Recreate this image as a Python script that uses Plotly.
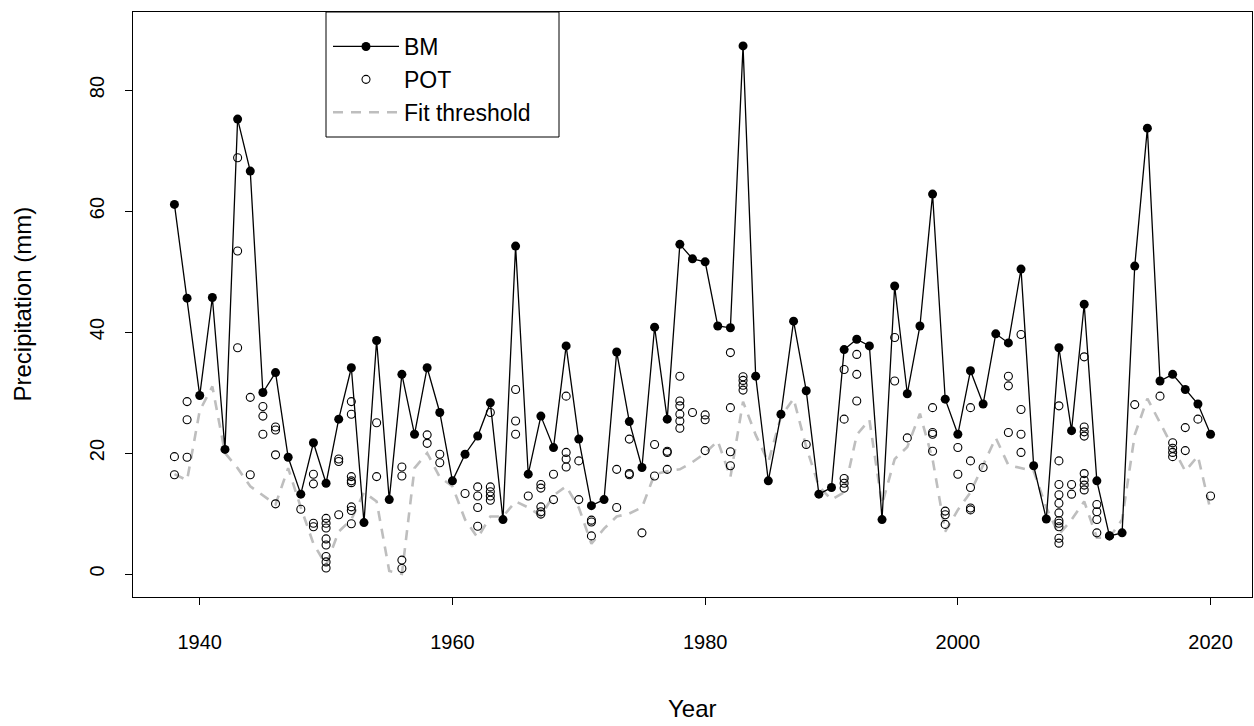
import plotly.graph_objects as go

years = list(range(1938, 2021))

bm_values = [
    61.1, 45.6, 29.5, 45.7, 20.6, 75.2, 66.6, 30.0, 33.3, 19.3,
    13.2, 21.7, 15.0, 25.6, 34.1, 8.5, 38.6, 12.3, 33.0, 23.1,
    34.1, 26.7, 15.4, 19.8, 22.8, 28.3, 9.0, 54.2, 16.5, 26.1,
    20.9, 37.7, 22.3, 11.3, 12.3, 36.7, 25.2, 17.6, 40.8, 25.6,
    54.5, 52.1, 51.6, 41.0, 40.7, 87.3, 32.7, 15.4, 26.4, 41.8,
    30.3, 13.2, 14.3, 37.1, 38.8, 37.7, 9.0, 47.6, 29.8, 41.0,
    62.8, 28.9, 23.1, 33.6, 28.1, 39.7, 38.2, 50.4, 17.9, 9.1,
    37.4, 23.7, 44.6, 15.4, 6.3, 6.8, 50.9, 73.7, 31.9, 33.0,
    30.5, 28.1, 23.1,
]

threshold_values = [
    16.5, 15.5, 27.0, 31.0, 20.0, 17.5, 14.5, 13.0, 11.5, 17.5,
    11.0, 5.0, 1.5, 7.0, 9.0, 13.5, 12.0, 0.5, 0.0, 17.5,
    20.0, 16.0, 14.5, 9.0, 6.0, 9.5, 9.5, 12.0, 11.0, 9.6,
    13.0, 14.5, 11.0, 5.0, 7.5, 9.5, 10.0, 11.0, 16.5, 17.0,
    17.3, 18.5, 20.0, 22.0, 16.0, 28.5, 23.0, 18.5, 26.0, 29.0,
    21.0, 14.5, 12.3, 13.5, 23.0, 25.5, 11.5, 19.0, 21.0, 26.5,
    19.0, 7.0, 10.6, 13.5, 18.0, 22.5, 18.0, 17.5, 17.0, 11.0,
    6.5, 9.0, 12.0, 6.0, 6.0, 9.0, 23.0, 29.0, 25.0, 21.0,
    17.0, 19.5, 10.5,
]

pot_years = (
    [1938] * 2 + [1939] * 3 + [1943] * 3 + [1944] * 2 + [1945] * 3 + [1946] * 4
    + [1948] * 1 + [1949] * 4 + [1950] * 8 + [1951] * 3 + [1952] * 8 + [1954] * 2
    + [1956] * 4 + [1958] * 2 + [1959] * 2 + [1961] * 1 + [1962] * 4 + [1963] * 5
    + [1965] * 3 + [1966] * 1 + [1967] * 5 + [1968] * 2 + [1969] * 4 + [1970] * 2
    + [1971] * 3 + [1973] * 2 + [1974] * 3 + [1975] * 1 + [1976] * 2 + [1977] * 3
    + [1978] * 6 + [1979] * 1 + [1980] * 3 + [1982] * 4 + [1983] * 4 + [1988] * 1
    + [1991] * 5 + [1992] * 3 + [1995] * 2 + [1996] * 1 + [1998] * 4 + [1999] * 3
    + [2000] * 2 + [2001] * 5 + [2002] * 1 + [2004] * 3 + [2005] * 4 + [2008] * 11
    + [2009] * 2 + [2010] * 8 + [2011] * 4 + [2012] * 1 + [2014] * 1 + [2016] * 1
    + [2017] * 4 + [2018] * 2 + [2019] * 1 + [2020] * 1
)

pot_values = [
    19.4, 16.4,
    28.5, 25.5, 19.3,
    68.8, 53.4, 37.4,
    29.2, 16.4,
    27.7, 26.1, 23.1,
    24.3, 23.8, 19.7, 11.6,
    10.7,
    16.5, 14.9, 8.4, 7.8,
    9.2, 8.4, 7.6, 5.8, 4.8, 2.9, 2.0, 1.0,
    19.0, 18.6, 9.8,
    28.5, 26.4, 16.1, 15.4, 15.1, 11.1, 10.5, 8.3,
    25.0, 16.1,
    17.7, 16.2, 2.3, 0.9,
    23.0, 21.6,
    19.8, 18.4,
    13.3,
    14.4, 12.9, 11.0, 7.9,
    26.7, 14.4, 13.6, 12.9, 12.2,
    30.5, 25.3, 23.1,
    12.9,
    14.8, 14.2, 11.1, 10.3, 9.9,
    16.5, 12.3,
    29.4, 20.1, 19.0, 17.7,
    18.7, 12.3,
    8.9, 8.6, 6.3,
    17.3, 11.0,
    22.3, 16.6, 16.4,
    6.8,
    21.4, 16.2,
    20.3, 20.1, 17.3,
    32.7, 28.6, 27.8, 26.4, 25.3, 24.1,
    26.7,
    26.3, 25.5, 20.4,
    36.6, 27.5, 20.2, 17.9,
    32.6, 32.0, 31.2, 30.4,
    21.4,
    33.8, 25.6, 15.8, 15.0, 14.2,
    36.3, 33.0, 28.6,
    39.1, 31.9,
    22.5,
    27.5, 23.4, 23.1, 20.3,
    10.4, 9.8, 8.2,
    20.9, 16.5,
    27.5, 18.7, 14.3, 10.9, 10.6,
    17.6,
    32.7, 31.1, 23.4,
    39.6, 27.2, 23.1, 20.1,
    27.8, 18.7, 14.8, 13.1, 11.7, 10.1, 8.8, 8.4, 7.8, 5.9, 5.1,
    14.8, 13.2,
    35.9, 24.3, 23.5, 22.8, 16.6, 15.5, 14.7, 13.9,
    11.5, 10.3, 9.0, 6.8,
    6.3,
    28.0,
    29.4,
    21.7, 20.8, 20.1, 19.4,
    24.2, 20.4,
    25.6,
    12.9,
]

x_ticks = [1940, 1960, 1980, 2000, 2020]
y_ticks = [0, 20, 40, 60, 80]

FONT = "Liberation Sans, Arial, sans-serif"

# plot area in pixels: x 133..1252, y 12..597
PL, PR, PT, PB = 133, 1252, 12, 597
PW, PH = PR - PL, PB - PT


def px(xp):
    return (xp - PL) / PW


def py(yp):
    return (PB - yp) / PH


fig = go.Figure()

fig.add_trace(go.Scatter(
    x=years, y=threshold_values, mode="lines", name="Fit threshold",
    line=dict(color="#BEBEBE", width=2.6, dash="10px,8px"), legendrank=3,
))
fig.add_trace(go.Scatter(
    x=years, y=bm_values, mode="lines+markers", name="BM",
    line=dict(color="black", width=1.3),
    marker=dict(symbol="circle", size=9, color="black"), legendrank=1,
))
fig.add_trace(go.Scatter(
    x=pot_years, y=pot_values, mode="markers", name="POT",
    marker=dict(symbol="circle-open", size=8, color="black", line=dict(width=1.1)),
    legendrank=2,
))

# legend frame (R style box)
fig.add_shape(
    type="rect", xref="paper", yref="paper",
    x0=px(326), x1=px(559), y0=py(137), y1=py(12),
    line=dict(color="black", width=1), fillcolor="white", layer="above",
)

fig.update_layout(
    width=1254, height=726,
    margin=dict(l=PL, r=1254 - PR, t=PT, b=726 - PB),
    paper_bgcolor="white", plot_bgcolor="white",
    font=dict(family=FONT, color="black"),
    showlegend=True,
    legend=dict(
        x=px(328), y=py(25), xanchor="left", yanchor="top",
        borderwidth=0, bgcolor="rgba(0,0,0,0)",
        font=dict(size=23, family=FONT), traceorder="normal",
        itemwidth=66, tracegroupgap=0,
    ),
)

fig.update_xaxes(
    range=[1934.72, 2023.28], tickvals=x_ticks, ticktext=[str(v) for v in x_ticks],
    ticks="outside", ticklen=7, tickcolor="black", tickwidth=1,
    showline=True, linecolor="black", linewidth=1, mirror=True,
    showgrid=False, zeroline=False, tickfont=dict(size=20, family=FONT),
    ticklabelstandoff=20,
)
fig.update_yaxes(
    range=[-3.8, 92.9], tickvals=y_ticks, ticktext=[str(v) for v in y_ticks],
    ticks="outside", ticklen=7, tickcolor="black", tickwidth=1,
    showline=True, linecolor="black", linewidth=1, mirror=True,
    showgrid=False, zeroline=False, tickfont=dict(size=20, family=FONT),
    tickangle=-90, ticklabelstandoff=13,
)

fig.add_annotation(
    text="Year", xref="paper", yref="paper", x=0.5, y=py(708),
    xanchor="center", yanchor="middle", showarrow=False,
    font=dict(size=24, family=FONT, color="black"),
)
fig.add_annotation(
    text="Precipitation (mm)", xref="paper", yref="paper",
    x=px(22), y=0.5, xanchor="center", yanchor="middle",
    textangle=-90, showarrow=False,
    font=dict(size=24, family=FONT, color="black"),
)

fig.write_html("out.html")
